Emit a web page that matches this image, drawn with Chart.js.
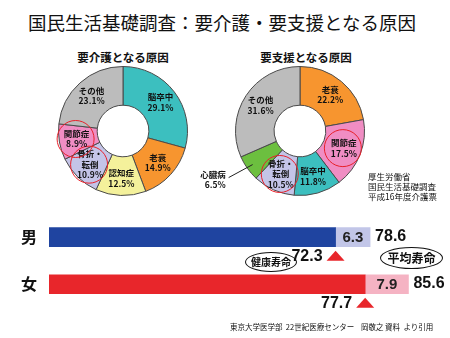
<!DOCTYPE html>
<html>
<head>
<meta charset="utf-8">
<script src="https://cdn.jsdelivr.net/npm/chart.js@4.4.1/dist/chart.umd.min.js"></script>
<style>
  body { margin: 0; background: #fff; font-family: "Noto Sans CJK JP", sans-serif; color: #111; }
  #wrap { position: relative; width: 450px; height: 338px; overflow: hidden; }
  .abs { position: absolute; white-space: nowrap; }
  canvas { position: absolute; }
  .title { left: 0; width: 444px; top: 9px; text-align: center; font-size: 18.5px; line-height: 26px; }
  .sub { font-size: 11.5px; font-weight: bold; top: 49px; width: 120px; text-align: center; line-height: 16px; }
  .src { left: 368px; top: 171px; font-size: 8.5px; line-height: 10px; }
  .foot { left: 230px; top: 321px; font-size: 7.5px; line-height: 11px; }
  .oval { border: 1px solid #111; border-radius: 50%; text-align: center; font-weight: bold; box-sizing: border-box; }
</style>
</head>
<body>
<div id="wrap">
  <div class="abs title">国民生活基礎調査：要介護・要支援となる原因</div>
  <div class="abs sub" style="left:63px">要介護となる原因</div>
  <div class="abs sub" style="left:246px">要支援となる原因</div>
  <canvas id="pieL" width="225" height="160" style="left:0;top:50px"></canvas>
  <canvas id="pieR" width="265" height="160" style="left:185px;top:50px"></canvas>
  <div class="abs src">厚生労働省<br>国民生活基礎調査<br>平成16年度介護票</div>
  <canvas id="bars" width="450" height="130" style="left:0;top:200px"></canvas>
  <div class="abs oval" style="left:245px;top:252px;width:52px;height:20px;font-size:10px;line-height:18px">健康寿命</div>
  <div class="abs oval" style="left:380px;top:247px;width:63px;height:22px;font-size:12px;line-height:20px">平均寿命</div>
  <div class="abs foot">東京大学医学部&nbsp; 22世紀医療センター&nbsp;&nbsp;&nbsp; 岡敬之 資料&nbsp; より引用</div>
</div>
<script>
// 要介護となる原因
const careLabels = ['脳卒中', '老衰', '認知症', '骨折・\n転倒', '関節症', 'その他']
const careValues = [29.1, 14.9, 12.5, 10.9, 8.9, 23.1]
const careColors = ['#3cbfbf', '#f7952f', '#f4f19b', '#c4c4e8', '#f08dc3', '#bcbcbc']

// 要支援となる原因
const supportLabels = ['老衰', '関節症', '脳卒中', '骨折・\n転倒', '心臓病', 'その他']
const supportValues = [22.2, 17.5, 11.8, 10.5, 6.5, 31.6]
const supportColors = ['#f7952f', '#f08dc3', '#3cbfbf', '#c4c4e8', '#6cbf3f', '#bcbcbc']

const CIRCLED = ['関節症', '骨折・\n転倒']

// 健康寿命 / 平均寿命
const sexes = ['男', '女']
const healthyYears = [72.3, 77.7]
const gapYears = [6.3, 7.9]

const LBL_FONT = 'bold 8.5px "Noto Sans CJK JP", sans-serif'

const pieLabels = {
  id: 'pieLabels',
  afterDatasetsDraw(chart) {
    const ctx = chart.ctx
    const meta = chart.getDatasetMeta(0)
    const labels = chart.data.labels
    const vals = chart.data.datasets[0].data
    ctx.save()
    ctx.font = LBL_FONT
    ctx.fillStyle = '#111'
    ctx.textBaseline = 'middle'
    meta.data.forEach((arc, i) => {
      const lines = labels[i].split('\n').concat(vals[i].toFixed(1) + '%')
      const mid = (arc.startAngle + arc.endAngle) / 2
      if (vals[i] < 8) {
        // small slice: label outside with a leader line
        const r = arc.outerRadius * 0.9
        const sx = arc.x + Math.cos(mid) * r, sy = arc.y + Math.sin(mid) * r
        const ex = sx - 24, ey = sy + 13
        ctx.strokeStyle = '#222'; ctx.lineWidth = 1
        ctx.beginPath(); ctx.moveTo(sx, sy); ctx.lineTo(ex, ey); ctx.stroke()
        ctx.textAlign = 'right'
        lines.forEach((t, k) => ctx.fillText(t, ex - 3, ey - 3 + k * 10))
        return
      }
      const r = arc.innerRadius + (arc.outerRadius - arc.innerRadius) * 0.55
      const px = arc.x + Math.cos(mid) * r, py = arc.y + Math.sin(mid) * r
      const lh = 10.5
      const y0 = py - (lines.length - 1) * lh / 2
      ctx.textAlign = 'center'
      lines.forEach((t, k) => ctx.fillText(t, px, y0 + k * lh))
      if (CIRCLED.includes(labels[i])) {
        ctx.strokeStyle = '#e8202a'; ctx.lineWidth = 1
        ctx.beginPath(); ctx.arc(px - 1, py, 18.5, 0, Math.PI * 2); ctx.stroke()
      }
    })
    ctx.restore()
  }
}

function mkPie(id, labels, values, colors, pad) {
  new Chart(document.getElementById(id), {
    type: 'doughnut',
    data: { labels, datasets: [{ data: values, backgroundColor: colors, borderColor: '#4a4a4a', borderWidth: 1 }] },
    options: {
      responsive: false, animation: false, cutout: '40%',
      layout: { padding: pad },
      plugins: { legend: { display: false }, tooltip: { enabled: false } },
    },
    plugins: [pieLabels],
  })
}

mkPie('pieL', careLabels, careValues, careColors, { left: 58, right: 37, top: 16, bottom: 14 })
mkPie('pieR', supportLabels, supportValues, supportColors, { left: 50, right: 85, top: 16, bottom: 14 })

const barNotes = {
  id: 'barNotes',
  afterDraw(chart) {
    const ctx = chart.ctx
    const m0 = chart.getDatasetMeta(0), m1 = chart.getDatasetMeta(1)
    ctx.save()
    ctx.textBaseline = 'middle'
    m0.data.forEach((b0, i) => {
      const b1 = m1.data[i]
      const bottom = b0.y + b0.height / 2
      // gap value inside the light segment
      ctx.font = 'bold 15px "Liberation Sans", Arial, sans-serif'
      ctx.fillStyle = '#222'
      ctx.textAlign = 'center'
      ctx.fillText(gapYears[i].toFixed(1), (b0.x + b1.x) / 2, b0.y + 1)
      // total (平均寿命) after the bar
      ctx.font = 'bold 16px "Liberation Sans", Arial, sans-serif'
      ctx.fillStyle = '#111'
      ctx.textAlign = 'left'
      ctx.fillText((healthyYears[i] + gapYears[i]).toFixed(1), b1.x + 5, b0.y - 1)
      // triangle marker + 健康寿命 value
      ctx.fillStyle = '#e8262b'
      ctx.beginPath()
      ctx.moveTo(b0.x, bottom + 4)
      ctx.lineTo(b0.x + 9, bottom + 14)
      ctx.lineTo(b0.x - 9, bottom + 14)
      ctx.closePath(); ctx.fill()
      ctx.fillStyle = '#111'
      ctx.textAlign = 'right'
      ctx.fillText(healthyYears[i].toFixed(1), b0.x - 13, bottom + 10)
    })
    ctx.restore()
  }
}

new Chart(document.getElementById('bars'), {
  type: 'bar',
  data: {
    labels: sexes,
    datasets: [
      { data: healthyYears, backgroundColor: ['#1f44a0', '#e8262b'], barThickness: 19, borderWidth: 0 },
      { data: gapYears, backgroundColor: ['#c2c6e8', '#f5b3c3'], barThickness: 19, borderWidth: 0 },
    ],
  },
  options: {
    responsive: false, animation: false, indexAxis: 'y',
    layout: { padding: { left: 0, right: 1, top: 12.75, bottom: 22.25 } },
    plugins: { legend: { display: false }, tooltip: { enabled: false } },
    scales: {
      x: { stacked: true, min: 20, max: 93, display: false },
      y: {
        stacked: true,
        grid: { display: false }, border: { display: false },
        ticks: { color: '#111', padding: 4, font: { size: 16, weight: 'bold', family: '"Noto Sans CJK JP", sans-serif' } },
        afterFit(scale) { scale.width = 49 },
      },
    },
  },
  plugins: [barNotes],
})
</script>
</body>
</html>
